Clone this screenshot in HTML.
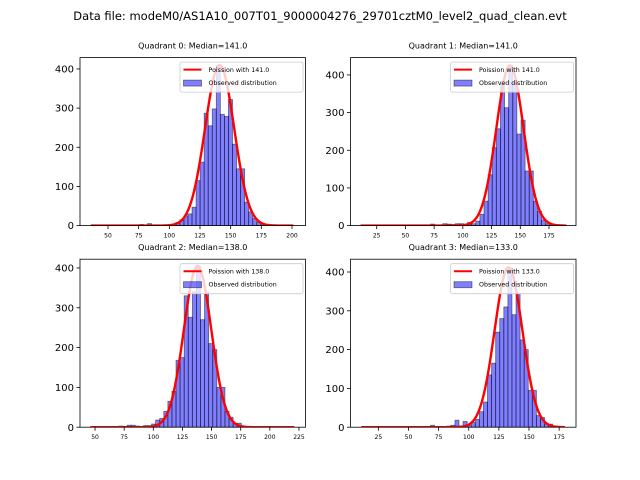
<!DOCTYPE html>
<html><head><meta charset="utf-8"><style>
body{margin:0;background:#fff}
svg{display:block;font-family:"DejaVu Sans","Liberation Sans",sans-serif}
</style></head><body>
<svg id="fig" width="640" height="480" viewBox="0 0 640 480">
<text x="320" y="20" text-anchor="middle" font-size="11.5">Data file: modeM0/AS1A10_007T01_9000004276_29701cztM0_level2_quad_clean.evt</text>
</svg>
<script>
// ---- data ----
const titles = ["Quadrant 0: Median=141.0","Quadrant 1: Median=141.0","Quadrant 2: Median=138.0","Quadrant 3: Median=133.0"];
const lambdas = [141.0,141.0,138.0,133.0];
const binStarts = [36,11,46,10.8];
const binWidths = [3.3,3.58,3.5,3.38];
const xDomains = [[27.2,211],[2.2,198.5],[37.1,230.6],[1.9,189]];
const yMaxes = [429,446,422,433];
const curvePeaks = [410,425,405,412];
const xTicks = [[50,75,100,125,150,175,200],[25,50,75,100,125,150,175],[50,75,100,125,150,175,200,225],[25,50,75,100,125,150,175]];
const yTicks = [0,100,200,300,400];
const counts0 = [0,0,0,0,0,0,0,0,0,0,0,0,3,0,5,1,1,0,1,2,3,8,15,25,30,47,115,162,287,255,298,409,284,279,322,208,145,145,60,35,18,8,4,2,1,0,0,0,0,1];
const counts1 = [0,0,0,0,0,0,0,0,0,0,0,0,0,0,0,0,0,4,0,0,5,4,3,5,5,4,8,5,12,30,65,135,207,257,378,313,425,378,243,280,145,145,65,38,15,5,2,1,0,1];
const counts2 = [0,0,0,0,0,0,0,3,0,5,5,3,0,4,4,8,18,22,40,65,90,168,175,330,276,340,405,270,340,210,195,100,100,40,25,10,10,2,0,0,0,0,0,0,0,0,0,0,0,0];
const counts3 = [0,0,0,0,0,0,0,0,0,0,0,0,0,0,0,0,0,5,0,0,2,3,5,18,3,15,4,12,20,40,65,135,165,245,280,310,410,290,345,225,200,95,95,30,25,8,8,2,1,0];
const allCounts = [counts0,counts1,counts2,counts3];
// ---- layout ----
const axL=[80,350.5,80,350.5], axT=[57.6,57.6,259.2,259.2], AW=225.5, AH=168;
const NS="http://www.w3.org/2000/svg";
const svg=document.getElementById('fig');
function mk(tag,attrs,parent){const e=document.createElementNS(NS,tag);for(const k in attrs)e.setAttribute(k,attrs[k]);(parent||svg).appendChild(e);return e;}
for(let q=0;q<4;q++){
  const L=axL[q],T=axT[q],B=T+AH,R=L+AW;
  const xs=v=>L+(v-xDomains[q][0])/(xDomains[q][1]-xDomains[q][0])*AW;
  const ys=v=>B-v/yMaxes[q]*AH;
  const g=mk('g',{});
  
  
  const clip=mk('clipPath',{id:'c'+q},g);mk('rect',{x:L,y:T,width:AW,height:AH},clip);
  const plot=mk('g',{'clip-path':'url(#c'+q+')'},g);
  allCounts[q].forEach((c,i)=>{
    if(c<=0)return;
    const x0=binStarts[q]+i*binWidths[q];
    const r=mk('rect',{x:xs(x0),y:ys(c),width:xs(x0+binWidths[q])-xs(x0),height:B-ys(c),fill:'rgba(0,0,255,0.5)',stroke:'rgba(0,0,0,0.5)','stroke-width':0.8},plot);
    
    
  });
  const lam=lambdas[q],sd=Math.sqrt(lam);
  const x0=binStarts[q],x1=binStarts[q]+allCounts[q].length*binWidths[q];
  let d='';
  for(let k=0;k<=300;k++){const x=x0+(x1-x0)*k/300;const y=curvePeaks[q]*Math.exp(-(x-lam)*(x-lam)/(2*sd*sd));d+=(k?'L':'M')+xs(x).toFixed(2)+' '+ys(y).toFixed(2);}
  const p=mk('path',{d:d,fill:'none',stroke:'#ff0000','stroke-width':2.4},plot);
  
  
  mk('rect',{x:L,y:T,width:AW,height:AH,fill:'none',stroke:'#000','stroke-width':0.8},g);
  xTicks[q].forEach(t=>{const x=xs(t);mk('line',{x1:x,x2:x,y1:B,y2:B+3.5,stroke:'#000','stroke-width':0.8},g);
    const tx=mk('text',{x:x,y:B+12,'font-size':6,'text-anchor':'middle'},g);tx.textContent=t;
    
    });
  yTicks.forEach(t=>{const y=ys(t);mk('line',{x1:L-3.5,x2:L,y1:y,y2:y,stroke:'#000','stroke-width':0.8},g);
    const tx=mk('text',{x:L-6,y:y+3.6,'font-size':10,'text-anchor':'end'},g);tx.textContent=t;
    
    });
  const ti=mk('text',{x:L+AW/2,y:T-9,'font-size':8,'text-anchor':'middle'},g);ti.textContent=titles[q];
  
  
  const lg=mk('g',{},g);
  
  
  mk('rect',{x:R-125.5,y:T+4.5,width:123,height:30,rx:2,fill:'rgba(255,255,255,0.8)',stroke:'#ccc','stroke-width':0.8},lg);
  mk('line',{x1:R-122,x2:R-104,y1:T+12,y2:T+12,stroke:'#f00','stroke-width':2},lg);
  mk('rect',{x:R-122,y:T+22.5,width:18,height:6,fill:'rgba(0,0,255,0.5)',stroke:'rgba(0,0,0,0.5)','stroke-width':0.8},lg);
  const l1=mk('text',{x:R-97,y:T+14.3,'font-size':6.3},lg);l1.textContent='Poission with '+lam.toFixed(1);
  
  
  const l2=mk('text',{x:R-97,y:T+27.5,'font-size':6.3},lg);l2.textContent='Observed distribution';
  
  
}
</script>
</body></html>
